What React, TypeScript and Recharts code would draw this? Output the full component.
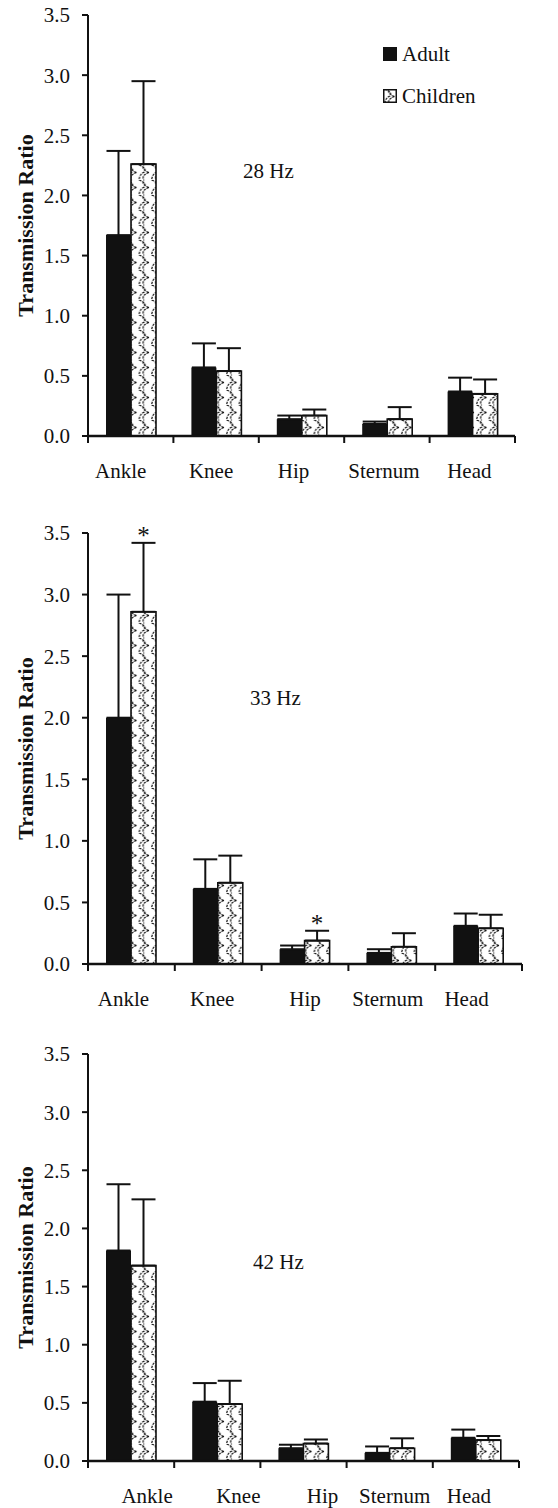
import React from "react"
import { ComposedChart, Bar, XAxis, YAxis, ErrorBar, LabelList } from "recharts"

const FONT = "Liberation Serif, serif"
const INK = "#111"

const SITES = ["Ankle", "Knee", "Hip", "Sternum", "Head"]
const Y_TICKS = [0, 0.5, 1, 1.5, 2, 2.5, 3, 3.5]

// 28 Hz
const ADULT_28 = [1.67, 0.57, 0.14, 0.1, 0.37]
const ADULT_28_SD = [0.7, 0.2, 0.03, 0.02, 0.115]
const CHILD_28 = [2.26, 0.54, 0.17, 0.14, 0.35]
const CHILD_28_SD = [0.69, 0.19, 0.05, 0.1, 0.12]

// 33 Hz
const ADULT_33 = [2.0, 0.61, 0.12, 0.09, 0.31]
const ADULT_33_SD = [1.0, 0.24, 0.03, 0.03, 0.1]
const CHILD_33 = [2.86, 0.66, 0.19, 0.14, 0.29]
const CHILD_33_SD = [0.56, 0.22, 0.08, 0.11, 0.11]
const STAR_33 = [true, false, true, false, false]

// 42 Hz
const ADULT_42 = [1.81, 0.51, 0.11, 0.07, 0.2]
const ADULT_42_SD = [0.57, 0.16, 0.03, 0.055, 0.07]
const CHILD_42 = [1.68, 0.49, 0.15, 0.11, 0.18]
const CHILD_42_SD = [0.57, 0.2, 0.035, 0.085, 0.035]

function buildData(adult: number[], adultSd: number[], child: number[], childSd: number[]) {
  return SITES.map((site, i) => ({
    site,
    adult: adult[i],
    adultErr: [0, adultSd[i]],
    child: child[i],
    childErr: [0, childSd[i]],
  }))
}

function SiteTick(props: any) {
  const { x, y, payload, index, half, dx } = props
  return (
    <g>
      <line x1={x - half} x2={x - half} y1={y} y2={y + 7} stroke={INK} strokeWidth={2} />
      {index === SITES.length - 1 && (
        <line x1={x + half} x2={x + half} y1={y} y2={y + 7} stroke={INK} strokeWidth={2} />
      )}
      <text
        x={x + (dx[index] || 0)}
        y={y + 42}
        textAnchor="middle"
        fontSize={21}
        fill={INK}
        style={{ fontFamily: FONT }}
      >
        {payload.value}
      </text>
    </g>
  )
}

function Panel({ top, plotH, right, data, stars, tickDx }: any) {
  const marginTop = 15
  const xAxisH = 55
  const plotW = right - 88
  const half = plotW / SITES.length / 2

  // asterisk sits above the error bar cap, scale taken from the bar itself
  const renderStar = (p: any) => {
    const { x, y, width, height, value, index } = p
    if (!stars || !stars[index]) return null
    const perUnit = height / value
    const errTop = y - data[index].childErr[1] * perUnit
    return (
      <text
        key={index}
        x={x + width / 2}
        y={errTop + 1}
        textAnchor="middle"
        fontSize={25}
        fill={INK}
        style={{ fontFamily: FONT }}
      >
        *
      </text>
    )
  }

  return (
    <div style={{ position: "absolute", left: 0, top: top - marginTop }}>
      <ComposedChart
        width={558}
        height={plotH + marginTop + xAxisH}
        data={data}
        margin={{ top: marginTop, right: 558 - right, left: 0, bottom: 0 }}
        barGap={0}
      >
        <XAxis
          dataKey="site"
          height={xAxisH}
          axisLine={{ stroke: INK, strokeWidth: 2.5 }}
          tickLine={false}
          tickSize={0}
          tickMargin={0}
          interval={0}
          tick={(p: any) => <SiteTick {...p} half={half} dx={tickDx} />}
        />
        <YAxis
          width={88}
          domain={[0, 3.5]}
          ticks={Y_TICKS}
          interval={0}
          tickFormatter={(v: number) => v.toFixed(1)}
          axisLine={{ stroke: INK, strokeWidth: 2 }}
          tickLine={{ stroke: INK, strokeWidth: 2 }}
          tickSize={6}
          tickMargin={12}
          tick={{ fontSize: 21, fill: INK, style: { fontFamily: FONT } }}
          label={{
            value: "Transmission Ratio",
            angle: -90,
            position: "insideLeft",
            offset: 25,
            style: { textAnchor: "middle", fontSize: 22, fontWeight: 700, fill: INK, fontFamily: FONT },
          }}
        />
        <Bar dataKey="adult" barSize={25} fill={INK} isAnimationActive={false}>
          <ErrorBar dataKey="adultErr" width={12} stroke={INK} strokeWidth={2} direction="y" isAnimationActive={false} />
        </Bar>
        <Bar
          dataKey="child"
          barSize={25}
          fill="url(#kidsPattern)"
          stroke={INK}
          strokeWidth={1.6}
          isAnimationActive={false}
        >
          <ErrorBar dataKey="childErr" width={12} stroke={INK} strokeWidth={2} direction="y" isAnimationActive={false} />
          {stars && <LabelList dataKey="child" content={renderStar} />}
        </Bar>
      </ComposedChart>
    </div>
  )
}

const hzStyle: React.CSSProperties = {
  position: "absolute",
  fontSize: 21,
  lineHeight: "24px",
  color: INK,
  fontFamily: FONT,
  whiteSpace: "nowrap",
}

export default function App() {
  const data28 = buildData(ADULT_28, ADULT_28_SD, CHILD_28, CHILD_28_SD)
  const data33 = buildData(ADULT_33, ADULT_33_SD, CHILD_33, CHILD_33_SD)
  const data42 = buildData(ADULT_42, ADULT_42_SD, CHILD_42, CHILD_42_SD)

  return (
    <div
      style={{
        position: "absolute",
        left: 0,
        top: 0,
        width: 558,
        height: 1508,
        background: "#fff",
        fontFamily: FONT,
        overflow: "hidden",
      }}
    >
      {/* shared scallop pattern for the Children bars */}
      <svg width={0} height={0} style={{ position: "absolute" }}>
        <defs>
          <pattern id="kidsPattern" width={12.5} height={15} patternUnits="userSpaceOnUse">
            <rect width={12.5} height={15} fill="#fff" />
            <path
              d="M1.5 0 C8 2 9 6 6 7.5 C3 9 2 12 1.5 15 M11.5 7.5 C5 9.5 5 13 6.5 15 M11.5 7.5 C5 5.5 5 2 6.5 0"
              fill="none"
              stroke={INK}
              strokeWidth={1.2}
              strokeDasharray="2.4 1"
            />
          </pattern>
        </defs>
      </svg>

      <Panel top={15} plotH={421} right={515} data={data28} tickDx={[-10, -5, -8, -3, -3]} />
      <Panel top={533} plotH={431} right={522} data={data33} stars={STAR_33} tickDx={[-8, -6, 0, -4, -12]} />
      <Panel top={1054} plotH={407} right={519} data={data42} tickDx={[16, 21, 19, 5, -7]} />

      <div style={{ ...hzStyle, left: 243, top: 159 }}>28 Hz</div>
      <div style={{ ...hzStyle, left: 250, top: 686 }}>33 Hz</div>
      <div style={{ ...hzStyle, left: 253, top: 1250 }}>42 Hz</div>

      {/* legend */}
      <div
        style={{
          position: "absolute",
          left: 383,
          top: 42,
          fontSize: 21,
          lineHeight: "24px",
          color: INK,
          fontFamily: FONT,
        }}
      >
        <div style={{ display: "flex", alignItems: "center", gap: 5 }}>
          <span style={{ width: 14, height: 14, background: INK, display: "inline-block" }} />
          <span>Adult</span>
        </div>
        <div style={{ display: "flex", alignItems: "center", gap: 5, marginTop: 18 }}>
          <svg width={14} height={14}>
            <rect x={0.75} y={0.75} width={12.5} height={12.5} fill="url(#kidsPattern)" stroke={INK} strokeWidth={1.5} />
          </svg>
          <span>Children</span>
        </div>
      </div>
    </div>
  )
}
